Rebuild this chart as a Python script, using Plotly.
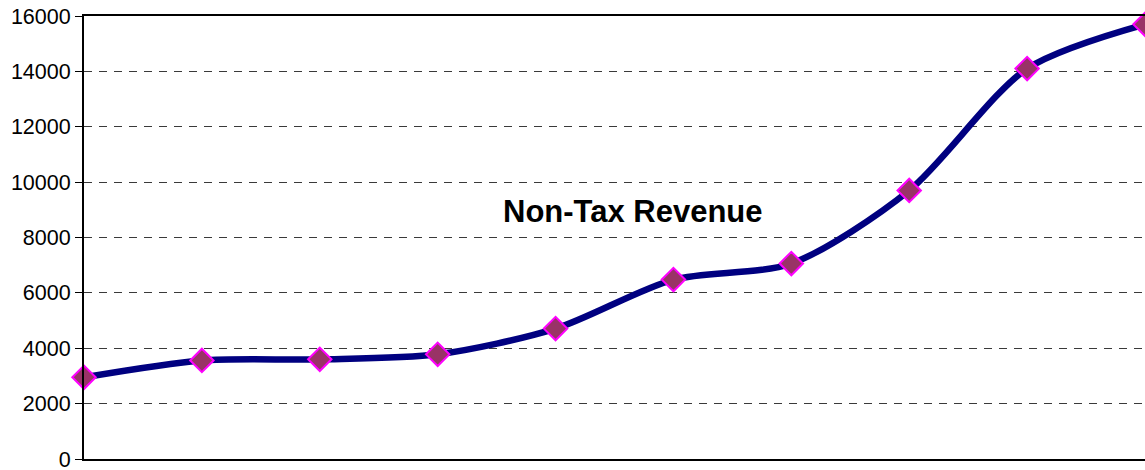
import plotly.graph_objects as go

categories = [1, 2, 3, 4, 5, 6, 7, 8, 9, 10]
non_tax_revenue = [2950, 3560, 3600, 3780, 4710, 6480, 7060, 9700, 14100, 15700]
y_ticks = [0, 2000, 4000, 6000, 8000, 10000, 12000, 14000, 16000]
title_text = "Non-Tax Revenue"

fig = go.Figure()
fig.add_trace(go.Scatter(
    x=categories,
    y=non_tax_revenue,
    mode="lines+markers",
    line=dict(color="#000080", width=6.5, shape="spline", smoothing=0.8),
    marker=dict(symbol="diamond", size=18, color="#993366",
                line=dict(color="#FF00FF", width=2)),
    cliponaxis=False,
    showlegend=False,
))

fig.add_annotation(
    text="<b>" + title_text + "</b>",
    xref="paper", yref="paper", x=0.517, y=0.559,
    showarrow=False, font=dict(family="Arial, Liberation Sans, sans-serif", size=31, color="black"),
)

fig.update_layout(
    width=1145, height=470,
    margin=dict(l=84, r=0, t=16, b=11, autoexpand=False),
    plot_bgcolor="white", paper_bgcolor="white",
    font=dict(family="Arial, Liberation Sans, sans-serif", size=21.5, color="black"),
)
fig.update_xaxes(
    range=[1, 10], showticklabels=False, showgrid=False, zeroline=False,
    showline=True, linecolor="black", linewidth=2, mirror=True, ticks="",
    automargin=False,
)
fig.update_yaxes(
    range=[0, 16000], tickvals=y_ticks, ticktext=[str(v) for v in y_ticks],
    showgrid=True, gridcolor="#3a3a3a", griddash="8px,7px", gridwidth=1,
    zeroline=False, showline=True, linecolor="black", linewidth=2,
    ticks="outside", ticklen=7, tickcolor="black", tickwidth=1,
    ticklabeloverflow="allow", automargin=False,
)

fig.write_html(
    "out.html",
    config={"displayModeBar": False},
    post_script="document.body.style.margin='0';document.body.style.overflow='hidden';",
)
